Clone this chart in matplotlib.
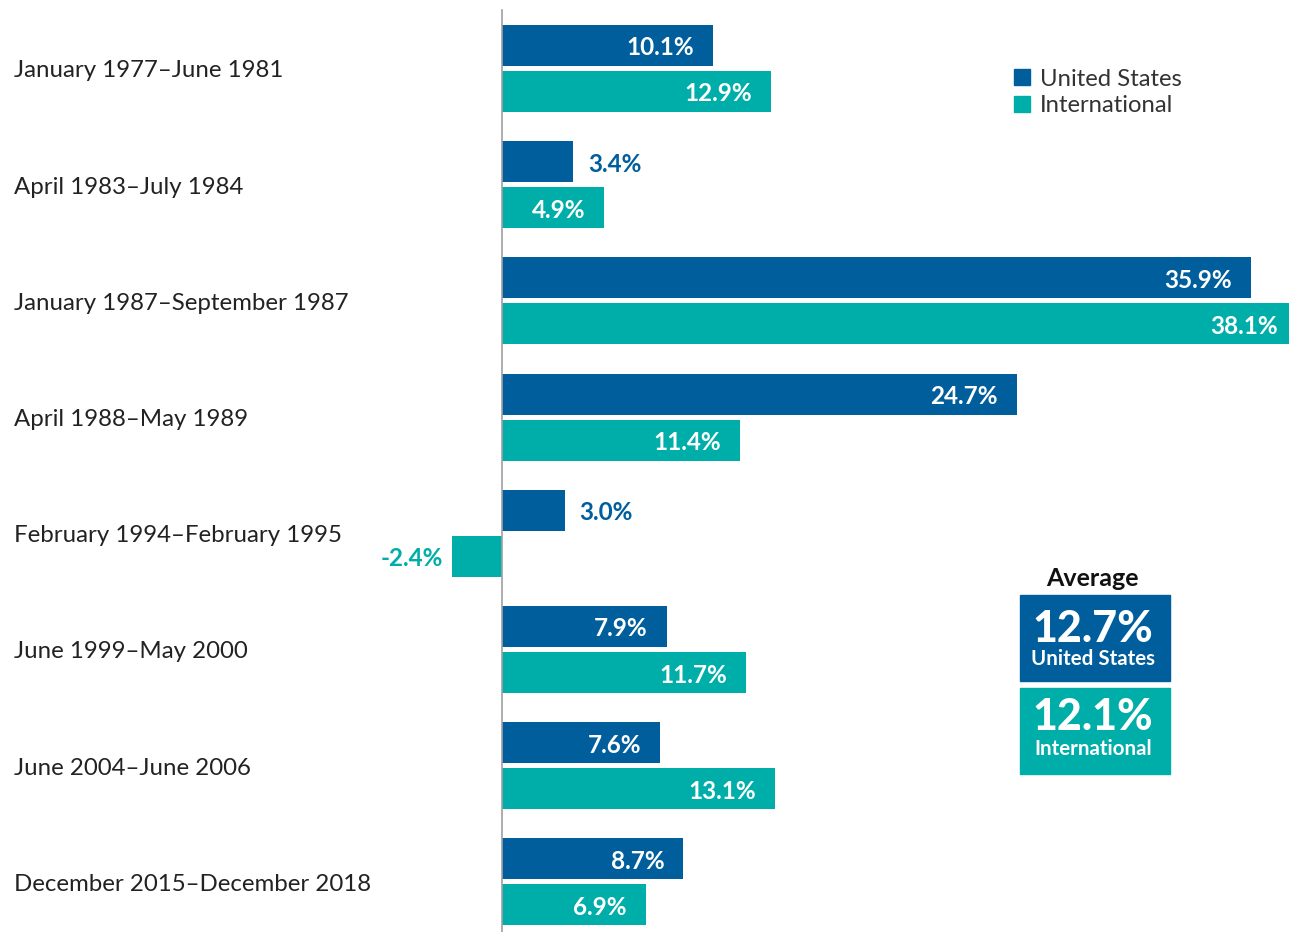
import matplotlib
matplotlib.use("Agg")
import matplotlib.pyplot as plt
from matplotlib.patches import Rectangle

categories = ["January 1977\u2013June 1981", "April 1983\u2013July 1984",
              "January 1987\u2013September 1987", "April 1988\u2013May 1989",
              "February 1994\u2013February 1995", "June 1999\u2013May 2000",
              "June 2004\u2013June 2006", "December 2015\u2013December 2018"]
us_values = [10.1, 3.4, 35.9, 24.7, 3.0, 7.9, 7.6, 8.7]
intl_values = [12.9, 4.9, 38.1, 11.4, -2.4, 11.7, 13.1, 6.9]
series_names = ["United States", "International"]
avg_us = 12.7
avg_intl = 12.1

US_C = "#005E9C"
INTL_C = "#00AEA9"
FONT = "Lato"

W, H = 1289, 932
fig = plt.figure(figsize=(W / 100, H / 100), dpi=100)
ax = fig.add_axes([0, 0, 1, 1])

pxs = 20.85          # pixels per percent
x0 = 502             # pixel of zero
gsp = 116.2          # pixels per group
g0 = 68.5            # pixel of first group centre
ax.set_xlim(-x0 / pxs, (W - x0) / pxs)
ax.set_ylim((H - g0) / gsp, -g0 / gsp)
ax.axis("off")

off = 23 / gsp
bh = 41 / gsp
dy = 2.5 / gsp
ys = list(range(len(categories)))

ax.barh([y - off for y in ys], us_values, height=bh, color=US_C, zorder=2)
ax.barh([y + off for y in ys], intl_values, height=bh, color=INTL_C, zorder=2)

ax.plot([0, 0], [-g0 / gsp + 10 / gsp, (H - g0) / gsp], color="#a0a0a0", lw=1.2, zorder=3)

def px(p):
    return p / pxs

VS = 17.5
for y, v in zip(ys, us_values):
    if v > 5:
        ax.text(v - px(19), y - off + dy, f"{v:.1f}%", ha="right", va="center",
                color="white", fontsize=VS, fontweight="bold", family=FONT, zorder=4)
    else:
        ax.text(v + px(15), y - off + dy, f"{v:.1f}%", ha="left", va="center",
                color=US_C, fontsize=VS, fontweight="bold", family=FONT, zorder=4)
for y, v in zip(ys, intl_values):
    if v < 0:
        ax.text(v - px(9), y + off + dy, f"{v:.1f}%", ha="right", va="center",
                color=INTL_C, fontsize=VS, fontweight="bold", family=FONT, zorder=4)
    else:
        ax.text(v - px(19), y + off + dy, f"{v:.1f}%", ha="right", va="center",
                color="white", fontsize=VS, fontweight="bold", family=FONT, zorder=4)

for y, c in zip(ys, categories):
    ax.text(-px(x0 - 14), y + dy, c, ha="left", va="center", color="#222222",
            fontsize=17.3, family=FONT)

# legend
ft = fig.transFigure
def fx(p):
    return p / W
def fy(p):
    return 1 - p / H
for i, (name, col) in enumerate(zip(series_names, [US_C, INTL_C])):
    yc = 77 + i * 27
    fig.add_artist(Rectangle((fx(1014), fy(yc + 8)), fx(16), 16 / H, color=col, transform=ft))
    fig.text(fx(1040), fy(yc + 2), name, ha="left", va="center", fontsize=17.2,
             color="#333333", family=FONT)

# average boxes
fig.text(fx(1092), fy(578), "Average", ha="center", va="center", fontsize=18,
         fontweight="bold", color="#111111", family=FONT)
fig.add_artist(Rectangle((fx(1020), fy(681)), fx(150), 86 / H, color=US_C, transform=ft))
fig.add_artist(Rectangle((fx(1020), fy(774)), fx(150), 86 / H, color=INTL_C, transform=ft))
fig.text(fx(1093), fy(629), f"{avg_us:.1f}%", ha="center", va="center", fontsize=31,
         fontweight="black", color="white", family=FONT)
fig.text(fx(1093), fy(659), series_names[0], ha="center", va="center", fontsize=14.8,
         fontweight="bold", color="white", family=FONT)
fig.text(fx(1093), fy(717), f"{avg_intl:.1f}%", ha="center", va="center", fontsize=31,
         fontweight="black", color="white", family=FONT)
fig.text(fx(1093), fy(749), series_names[1], ha="center", va="center", fontsize=14.8,
         fontweight="bold", color="white", family=FONT)

fig.savefig("out.png", dpi=100)
